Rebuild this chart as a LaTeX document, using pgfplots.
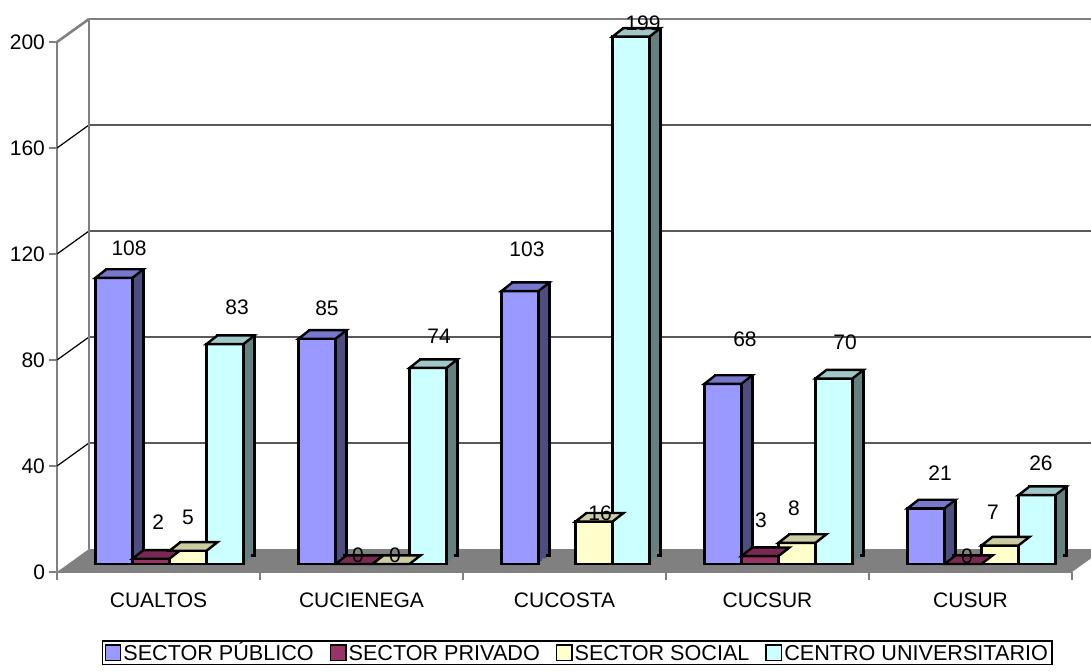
\documentclass[border=0pt]{standalone}
\usepackage{fontspec}
\setmainfont{Liberation Sans}
\usepackage{pgfplots}
\pgfplotsset{compat=1.18}
\usepackage{pgfplotstable}

% front / top / side shades of each series
\definecolor{pubF}{HTML}{9999FF}
\definecolor{pubT}{HTML}{7777CC}
\definecolor{pubS}{HTML}{4D4D80}
\definecolor{priF}{HTML}{993366}
\definecolor{priT}{HTML}{7A2952}
\definecolor{priS}{HTML}{4D1A33}
\definecolor{socF}{HTML}{FFFFCC}
\definecolor{socT}{HTML}{CCCCA3}
\definecolor{socS}{HTML}{808066}
\definecolor{cenF}{HTML}{CCFFFF}
\definecolor{cenT}{HTML}{A0C8C8}
\definecolor{cenS}{HTML}{668080}
\definecolor{wallgray}{HTML}{808080}

\pgfplotstableread{
x pub priv soc cen
0 108 2   5  83
1 85  0   0  74
2 103 nan 16 199
3 68  3   8  70
4 21  0   7  26
}\datatable

% where Excel put the value labels (front-plane axis units)
\pgfplotstableread{
x      y     lab
-0.145 122.3 108
-0.002 18.9  2
0.145  20.8  5
0.387  100.0 83
0.830  99.6  85
0.983  6.4   0
1.165  6.4   0
1.382  89.1  74
1.815  121.9 103
2.175  22.3  16
2.387  207.2 199
2.889  87.9  68
2.968  19.6  3
3.130  24.2  8
3.382  86.8  70
3.850  37.4  21
3.983  6.0   0
4.111  22.6  7
4.347  41.1  26
}\labeltable

% top face of a 3D bar, drawn as a mark at the bar top
\pgfdeclareplotmark{top3d}{%
  \pgfpathmoveto{\pgfqpoint{-9.25pt}{0pt}}%
  \pgfpathlineto{\pgfqpoint{9.25pt}{0pt}}%
  \pgfpathlineto{\pgfqpoint{14.75pt}{4.3pt}}%
  \pgfpathlineto{\pgfqpoint{-3.75pt}{4.3pt}}%
  \pgfpathclose
  \pgfusepathqfillstroke}

\newcommand\barfont{\fontsize{10.5}{12}\selectfont}
\newcommand\legfont{\fontsize{10.8}{12}\selectfont}

% #1 column, #2 colour prefix, #3 offset within the group
\newcommand\drawseries[3]{%
  \addplot[ybar, forget plot, fill=#2S, draw=black, line width=1.2pt, xshift=11pt, yshift=8.3pt]
    table[x expr=\thisrow{x}+#3, y=#1]{\datatable};
  \addplot[ybar, forget plot, fill=#2S, draw=none, xshift=9.17pt, yshift=6.87pt]
    table[x expr=\thisrow{x}+#3, y=#1]{\datatable};
  \addplot[ybar, forget plot, fill=#2S, draw=none, xshift=7.33pt, yshift=5.43pt]
    table[x expr=\thisrow{x}+#3, y=#1]{\datatable};
  \addplot[ybar, forget plot, fill=#2F, draw=black, line width=1.2pt, xshift=5.5pt, yshift=4pt,
    mark=top3d, mark options={fill=#2T, draw=black, line width=1.2pt, solid}]
    table[x expr=\thisrow{x}+#3, y=#1]{\datatable};
}

\begin{document}
\begin{tikzpicture}
\useasboundingbox (0,0) rectangle (545.5pt,335.5pt);
\clip (0,0) rectangle (545.5pt,335.5pt);
\begin{axis}[
  at={(28.5pt,49.5pt)}, anchor=south west,
  scale only axis, width=507.5pt, height=265pt,
  xmin=-0.5, xmax=4.5, ymin=0, ymax=200,
  clip=false,
  bar width=18.5pt,
  axis x line*=bottom, axis y line*=left,
  axis line style={draw=wallgray, line width=1pt},
  ytick={0,40,80,120,160,200},
  xtick={0,1,2,3,4},
  xticklabels={CUALTOS,CUCIENEGA,CUCOSTA,CUCSUR,CUSUR},
  minor xtick={-0.5,0.5,1.5,2.5,3.5,4.5},
  tick align=outside,
  major tick length=4pt, minor tick length=4pt,
  major x tick style={draw=none},
  minor x tick style={draw=wallgray, line width=1pt},
  major y tick style={draw=wallgray, line width=0.8pt},
  tick label style={font=\barfont, black},
  xticklabel style={yshift=-3pt},
  yticklabel style={xshift=1.5pt},
  /pgf/number format/assume math mode=true,
  legend columns=-1,
  legend cell align=left,
  legend image code/.code={\draw[#1, draw=black, line width=0.6pt] (0pt,-3.8pt) rectangle (7.8pt,3.8pt);},
  legend style={at={(0.0443,-0.129)}, anchor=north west, draw=black, line width=0.6pt,
    font=\legfont, inner sep=1pt,
    nodes={inner sep=1pt, text height=7.6pt, text depth=0pt},
    /tikz/every odd column/.append style={column sep=0pt},
    /tikz/every even column/.append style={column sep=7pt}},
]
% floor and back wall
\fill[wallgray] (axis cs:-0.5,0) -- (axis cs:4.5,0)
  -- ([shift={(16pt,11.5pt)}]axis cs:4.5,0) -- ([shift={(16pt,11.5pt)}]axis cs:-0.5,0) -- cycle;
\pgfplotsinvokeforeach{40,80,120,160}{
  \draw[black, line width=0.6pt] (axis cs:-0.5,#1) -- ([shift={(16pt,11.5pt)}]axis cs:-0.5,#1)
    -- ([shift={(16pt,11.5pt)}]axis cs:4.5,#1);
}
\draw[wallgray, line width=1pt] ([shift={(16pt,11.5pt)}]axis cs:-0.5,0)
  -- ([shift={(16pt,11.5pt)}]axis cs:-0.5,200);
\draw[wallgray, line width=1.3pt] ([shift={(16pt,11.5pt)}]axis cs:-0.5,200)
  -- ([shift={(16pt,11.5pt)}]axis cs:4.5,200);
\draw[wallgray, line width=1.3pt] (axis cs:-0.5,200) -- ([shift={(16pt,11.5pt)}]axis cs:-0.5,200);

\drawseries{pub}{pub}{-0.2734}
\drawseries{priv}{pri}{-0.0911}
\drawseries{soc}{soc}{0.0911}
\drawseries{cen}{cen}{0.2734}

% value labels
\addplot[forget plot, draw=none, mark=none, nodes near coords, point meta=explicit symbolic,
  every node near coord/.append style={anchor=center, inner sep=0pt, font=\barfont, black}]
  table[x=x, y=y, meta=lab]{\labeltable};

\addlegendimage{fill=pubF}\addlegendentry{SECTOR PÚBLICO}
\addlegendimage{fill=priF}\addlegendentry{SECTOR PRIVADO}
\addlegendimage{fill=socF}\addlegendentry{SECTOR SOCIAL}
\addlegendimage{fill=cenF}\addlegendentry{CENTRO UNIVERSITARIO}
\end{axis}
\end{tikzpicture}
\end{document}
